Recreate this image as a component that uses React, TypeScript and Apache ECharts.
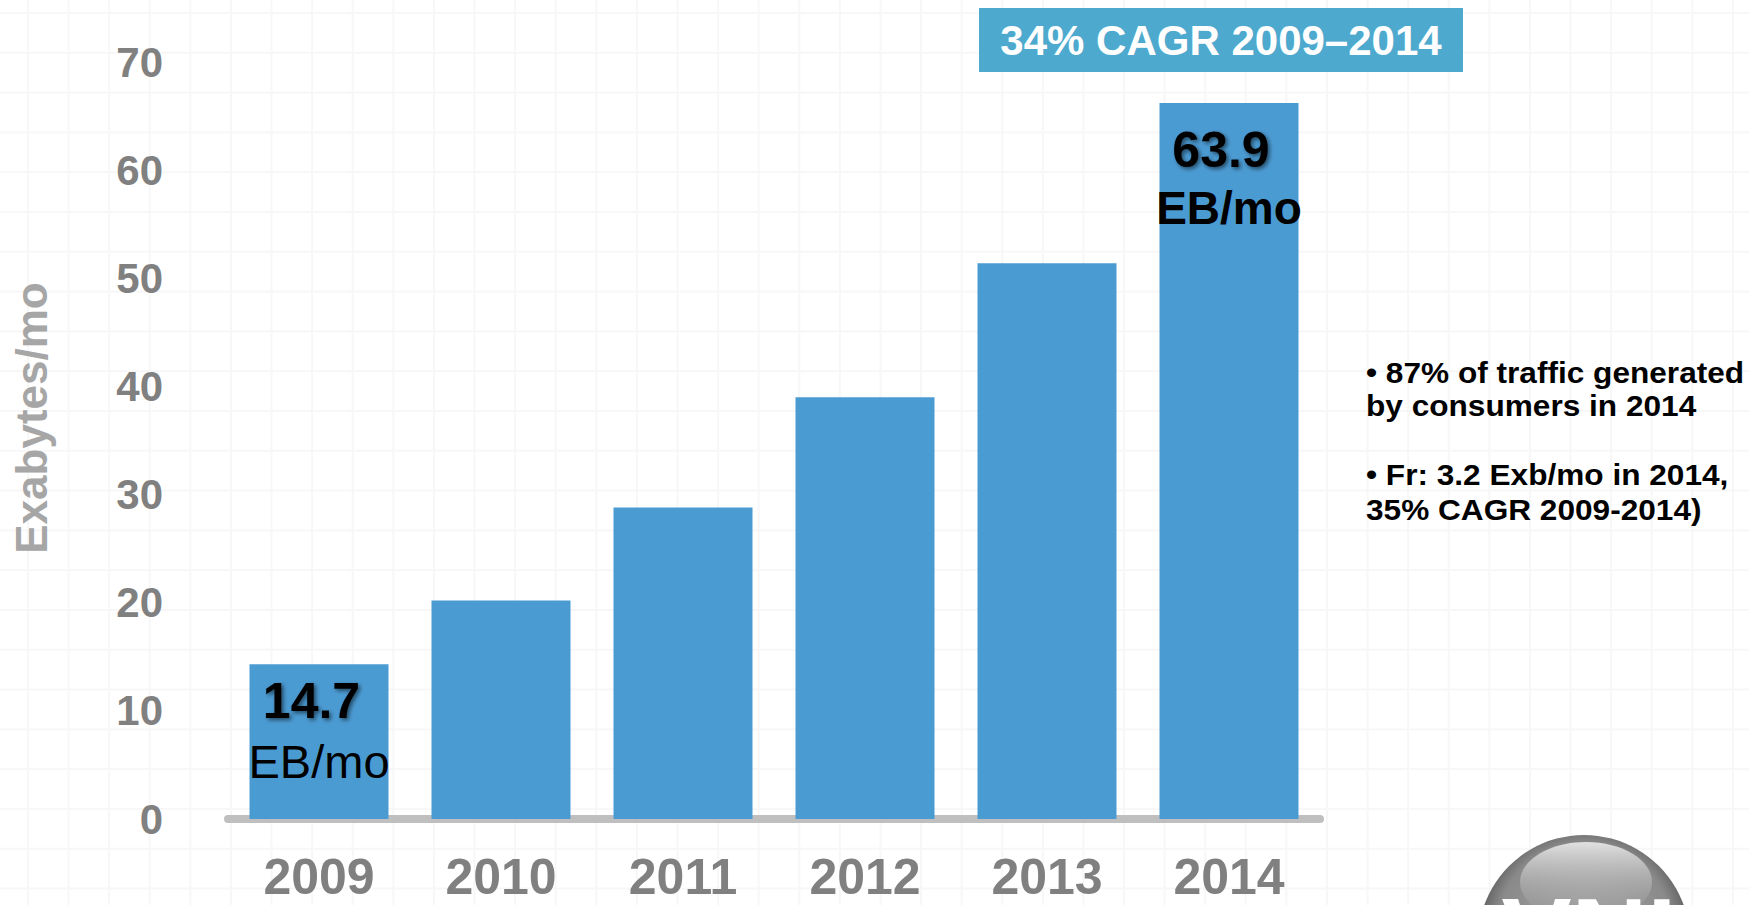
import React, { useEffect, useRef } from "react";
import * as echarts from "echarts";

const years = ["2009", "2010", "2011", "2012", "2013", "2014"];
const traffic = [14.3, 20.2, 28.8, 39.0, 51.4, 66.2];
const yTicks = { min: 0, max: 70, interval: 10 };
const firstLabel = ["14.7", "EB/mo"];
const lastLabel = ["63.9", "EB/mo"];
const cagrText = "34% CAGR 2009–2014";
const notes = [
  "• 87% of traffic generated",
  "by consumers in 2014",
  "• Fr: 3.2 Exb/mo in 2014,",
  "35% CAGR 2009-2014)",
];
const yName = "Exabytes/mo";
const logoText = "VNI";

const FONT = "Arial, 'Liberation Sans', Helvetica, sans-serif";
const shadow = {
  textShadowColor: "rgba(0,0,0,0.55)",
  textShadowBlur: 4,
  textShadowOffsetX: 2,
  textShadowOffsetY: 2,
};

export default function App() {
  const ref = useRef<HTMLDivElement>(null);
  useEffect(() => {
    if (!ref.current) return;
    const chart = echarts.init(ref.current, null, { renderer: "svg" });

    const data = traffic.map((v, i) => {
      if (i === 0) {
        return {
          value: v,
          label: {
            show: true,
            position: "insideTop",
            distance: 9,
            formatter: `{a|${firstLabel[0]}}\n{b|${firstLabel[1]}}`,
            rich: {
              a: { fontFamily: FONT, fontWeight: "bold", fontSize: 50, color: "#000", lineHeight: 56, padding: [0, 15, 0, 0], ...shadow },
              b: { fontFamily: FONT, fontWeight: "normal", fontSize: 47, color: "#000", lineHeight: 64 },
            },
          },
        };
      }
      if (i === traffic.length - 1) {
        return {
          value: v,
          label: {
            show: true,
            position: "insideTop",
            distance: 19,
            formatter: `{a|${lastLabel[0]}}\n{b|${lastLabel[1]}}`,
            rich: {
              a: { fontFamily: FONT, fontWeight: "bold", fontSize: 50, color: "#000", lineHeight: 56, padding: [0, 16, 0, 0], ...shadow },
              b: { fontFamily: FONT, fontWeight: "bold", fontSize: 46, color: "#000", lineHeight: 60 },
            },
          },
        };
      }
      return v;
    });

    const noteY = [373, 406, 475, 510];

    chart.setOption({
      animation: false,
      backgroundColor: "transparent",
      grid: { left: 228, right: 429, top: 62, bottom: 86, containLabel: false },
      xAxis: {
        type: "category",
        data: years,
        offset: 4,
        axisLine: { show: true, lineStyle: { color: "#BFBFBF", width: 8 } },
        axisTick: { show: false },
        axisLabel: {
          margin: 29,
          fontFamily: FONT,
          fontWeight: "bold",
          fontSize: 50,
          color: "#808080",
        },
      },
      yAxis: {
        type: "value",
        min: yTicks.min,
        max: yTicks.max,
        interval: yTicks.interval,
        axisLine: { show: false },
        axisTick: { show: false },
        splitLine: { show: false },
        axisLabel: {
          margin: 65,
          fontFamily: FONT,
          fontWeight: "bold",
          fontSize: 42,
          color: "#808080",
        },
      },
      series: [
        {
          type: "bar",
          data,
          barWidth: 139,
          itemStyle: { color: "#4B9BD3" },
        },
      ],
      graphic: [
        {
          type: "text",
          x: 31,
          y: 418,
          rotation: Math.PI / 2,
          style: {
            text: yName,
            fontFamily: FONT,
            fontWeight: "bold",
            fontSize: 44,
            fill: "#A6A6A6",
            textAlign: "center",
            textVerticalAlign: "middle",
          },
        },
        {
          type: "rect",
          shape: { x: 979, y: 8, width: 484, height: 64 },
          style: { fill: "#4EA9CE" },
        },
        {
          type: "text",
          x: 1221,
          y: 40,
          style: {
            text: cagrText,
            fontFamily: FONT,
            fontWeight: "bold",
            fontSize: 42,
            fill: "#FFFFFF",
            textAlign: "center",
            textVerticalAlign: "middle",
          },
        },
        ...notes.map((t, i) => ({
          type: "text",
          x: 1366,
          y: noteY[i],
          scaleX: 1.09,
          style: {
            text: t,
            fontFamily: FONT,
            fontWeight: "bold",
            fontSize: 29,
            fill: "#000000",
            textAlign: "left",
            textVerticalAlign: "middle",
          },
        })),
        {
          type: "group",
          children: [
            {
              type: "circle",
              shape: { cx: 1584, cy: 941, r: 106 },
              style: {
                fill: {
                  type: "radial",
                  x: 0.5,
                  y: 0.45,
                  r: 0.55,
                  colorStops: [
                    { offset: 0, color: "#A5A5A5" },
                    { offset: 0.75, color: "#8A8A8A" },
                    { offset: 0.92, color: "#5E5E5E" },
                    { offset: 1, color: "#3F3F3F" },
                  ],
                },
              },
            },
            {
              type: "ellipse",
              shape: { cx: 1586, cy: 882, rx: 66, ry: 40 },
              style: {
                fill: {
                  type: "linear",
                  x: 0,
                  y: 0,
                  x2: 0,
                  y2: 1,
                  colorStops: [
                    { offset: 0, color: "rgba(230,230,230,0.95)" },
                    { offset: 1, color: "rgba(150,150,150,0.15)" },
                  ],
                },
              },
            },
            {
              type: "text",
              x: 1589,
              y: 935,
              style: {
                text: logoText,
                fontFamily: FONT,
                fontWeight: "bold",
                fontSize: 105,
                fill: "#FFFFFF",
                textAlign: "center",
                textVerticalAlign: "middle",
              },
            },
          ],
        },
      ],
    });
    return () => chart.dispose();
  }, []);

  return (
    <div
      ref={ref}
      style={{
        position: "fixed",
        left: 0,
        top: 0,
        width: 1749,
        height: 905,
        backgroundColor: "#FFFFFF",
        backgroundImage:
          "linear-gradient(to right, #F7F7F7 2px, transparent 2px), linear-gradient(to bottom, #F7F7F7 2px, transparent 2px)",
        backgroundSize: "40.6px 39.8px",
        backgroundPosition: "27px 12px",
      }}
    />
  );
}
